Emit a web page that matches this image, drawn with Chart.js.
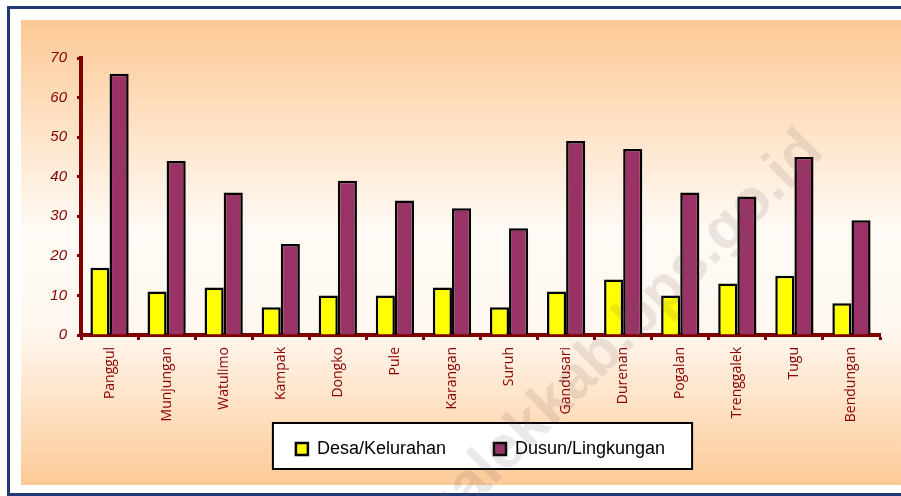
<!DOCTYPE html>
<html>
<head>
<meta charset="utf-8">
<script src="https://cdn.jsdelivr.net/npm/chart.js@4.4.1/dist/chart.umd.min.js"></script>
<style>
  html, body { margin: 0; padding: 0; background: #fff; }
  canvas { display: block; }
</style>
</head>
<body>
<canvas id="graphic" width="901" height="496"></canvas>
<script>
const categories = ['Panggul', 'Munjungan', 'Watulimo', 'Kampak', 'Dongko', 'Pule', 'Karangan',
    'Suruh', 'Gandusari', 'Durenan', 'Pogalan', 'Trenggalek', 'Tugu', 'Bendungan'];
const desaKelurahan = [17, 11, 12, 7, 10, 10, 12, 7, 11, 14, 10, 13, 15, 8];
const dusunLingkungan = [66, 44, 36, 23, 39, 34, 32, 27, 49, 47, 36, 35, 45, 29];
const yMin = 0;
const yMax = 70;
const yStep = 10;
const watermark = 'trenggalekkab.bps.go.id';

const darkRed = '#800000';

//Paper, blue frame, peach gradient and the white legend frame
const backgroundPlugin = {
    id: 'background',
    afterLayout(chart) {
        //let the rotated category names hang below the axis box
        chart.scales.x.bottom = chart.height;
    },
    beforeDraw(chart) {
        const ctx = chart.ctx;
        const w = chart.width, h = chart.height;
        ctx.save();
        ctx.fillStyle = '#ffffff';
        ctx.fillRect(0, 0, w, h);
        ctx.strokeStyle = '#1f3a74';
        ctx.lineWidth = 3;
        ctx.strokeRect(8.5, 7.5, w + 10, h - 9);

        const grad = ctx.createLinearGradient(0, 20, 0, 485);
        grad.addColorStop(0, '#fdc995');
        grad.addColorStop(0.45, '#fffaf5');
        grad.addColorStop(0.66, '#fff8f1');
        grad.addColorStop(1, '#fdca97');
        ctx.fillStyle = grad;
        ctx.fillRect(21, 20, w - 21, 465);

        const boxes = chart.legend && chart.legend.legendHitBoxes;
        if (boxes && boxes.length) {
            const left = Math.min(...boxes.map(b => b.left)) - 23;
            const right = Math.max(...boxes.map(b => b.left + b.width)) + 27;
            const top = boxes[0].top - 17;
            const bottom = boxes[0].top + boxes[0].height + 11;
            ctx.fillStyle = '#ffffff';
            ctx.fillRect(left, top, right - left, bottom - top);
            ctx.strokeStyle = '#000000';
            ctx.lineWidth = 2;
            ctx.strokeRect(left, top, right - left, bottom - top);
        }
        ctx.restore();
    },
    afterDraw(chart) {
        const ctx = chart.ctx;
        ctx.save();
        ctx.translate(814, 142);
        ctx.rotate(-45 * Math.PI / 180);
        ctx.font = 'bold 60px "Liberation Sans", Arial, sans-serif';
        ctx.textAlign = 'right';
        ctx.fillStyle = 'rgba(110, 90, 90, 0.14)';
        ctx.fillText(watermark, 0, 0);
        ctx.restore();
    }
};

const chartElement = document.getElementById('graphic');
const newChart = new Chart(chartElement, {
    type: 'bar',
    data: {
        labels: categories,
        datasets: [{
            label: 'Desa/Kelurahan',
            backgroundColor: '#ffff00',
            borderColor: '#000000',
            borderWidth: 2.5,
            data: desaKelurahan,
        }, {
            label: 'Dusun/Lingkungan',
            backgroundColor: '#993366',
            borderColor: '#000000',
            borderWidth: 2.5,
            data: dusunLingkungan,
        }]
    },
    options: {
        responsive: false,
        animation: false,
        datasets: {
            bar: { categoryPercentage: 0.67, barPercentage: 1.0 }
        },
        layout: { padding: { left: 21, right: 21, top: 58, bottom: 28 } },
        plugins: {
            legend: {
                position: 'bottom',
                fullSize: false,
                labels: {
                    color: '#000000',
                    font: { family: '"Liberation Sans", Arial, sans-serif', size: 18 },
                    boxWidth: 12,
                    boxHeight: 12,
                    padding: 48
                }
            },
            tooltip: { enabled: false }
        },
        scales: {
            x: {
                grid: { drawOnChartArea: false, tickLength: 5, tickWidth: 3, tickColor: darkRed, offset: true },
                border: { color: darkRed, width: 4 },
                ticks: {
                    minRotation: 90,
                    maxRotation: 90,
                    autoSkip: false,
                    padding: 7,
                    color: '#8b0000',
                    font: { family: '"Open Sans", sans-serif', size: 14 }
                },
                afterFit: scale => { scale.height = 57; }
            },
            y: {
                min: yMin,
                max: yMax,
                ticks: {
                    stepSize: yStep,
                    color: darkRed,
                    padding: 10,
                    font: { family: '"Liberation Sans", Arial, sans-serif', size: 15, style: 'italic' }
                },
                grid: { drawOnChartArea: false, tickLength: 4, tickWidth: 3, tickColor: darkRed },
                border: { color: darkRed, width: 4 },
                afterFit: scale => { scale.width = 60; }
            }
        }
    },
    plugins: [backgroundPlugin]
});
</script>
</body>
</html>
